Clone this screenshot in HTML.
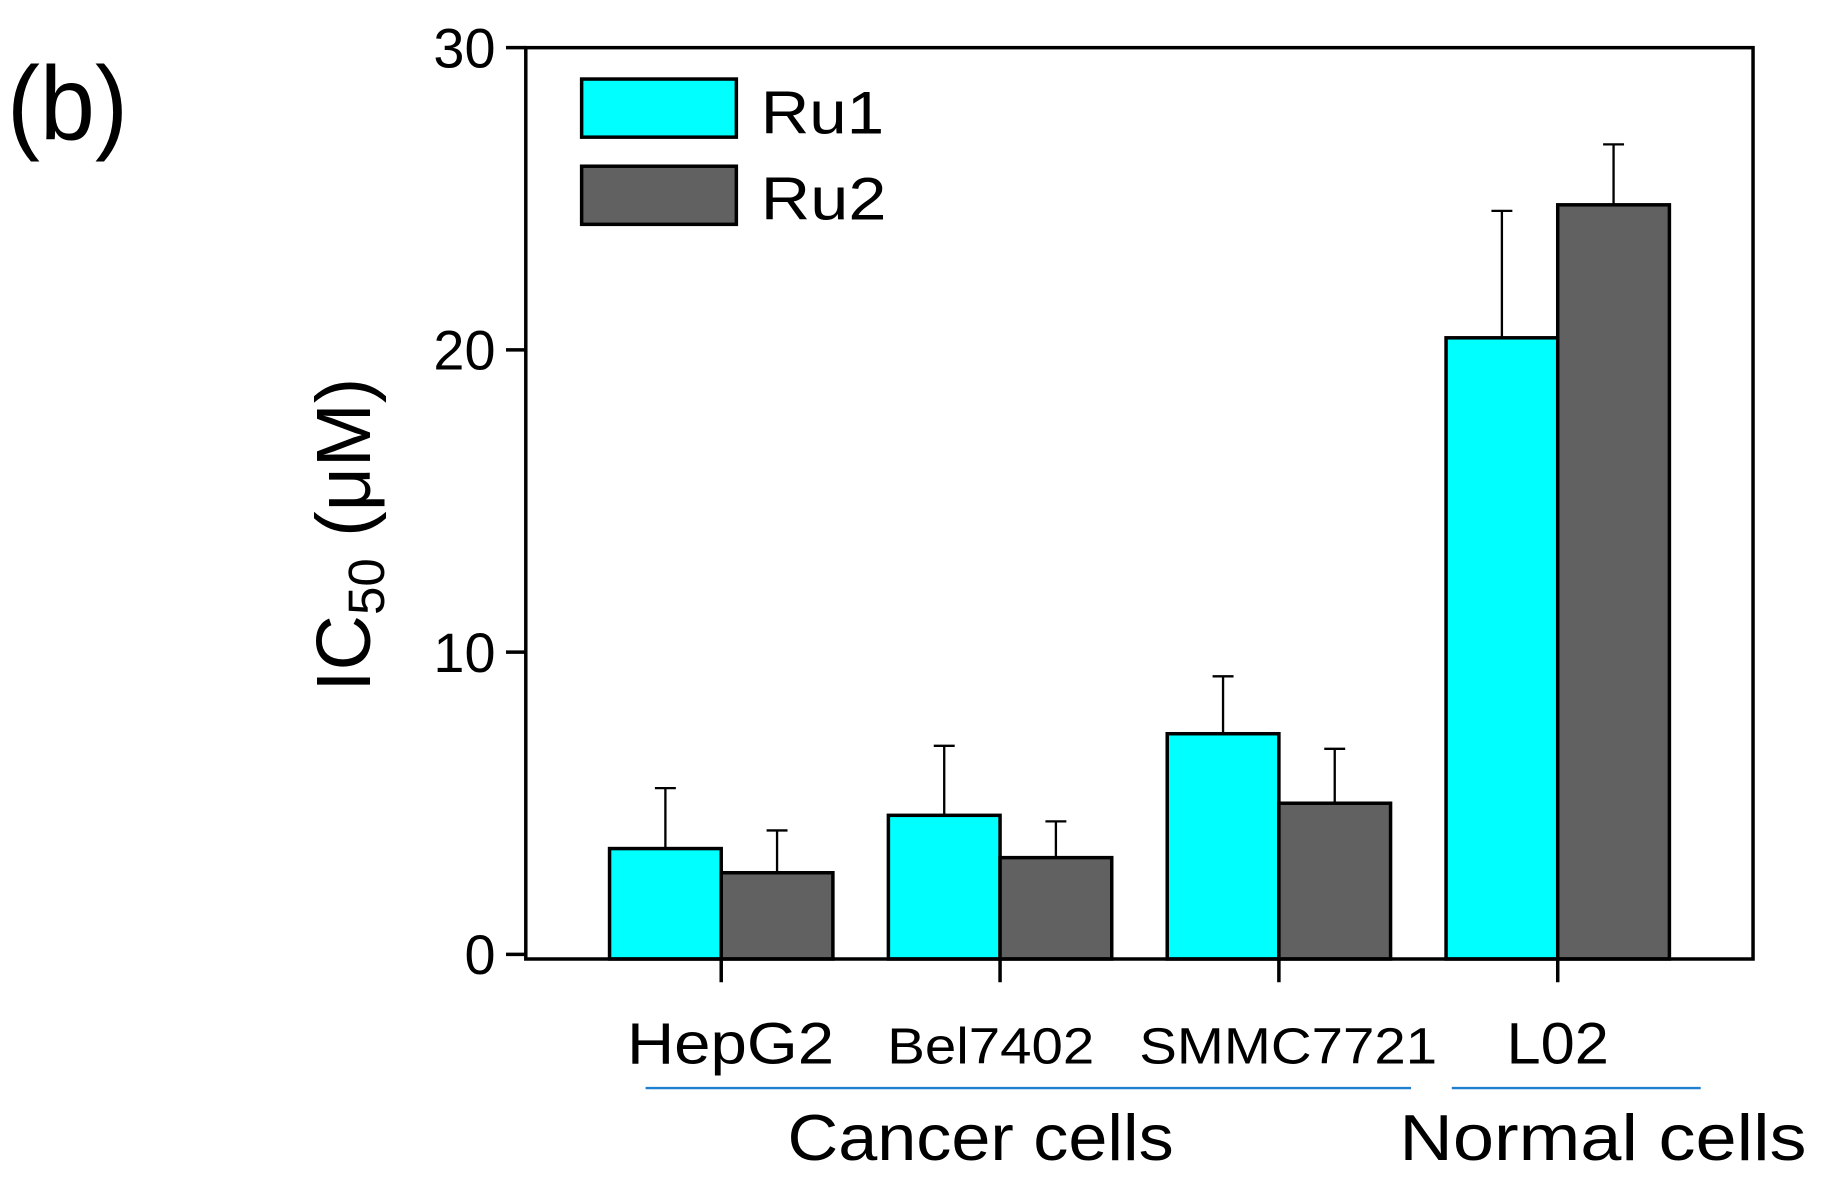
<!DOCTYPE html>
<html><head><meta charset="utf-8"><style>
html,body{margin:0;padding:0;background:#fff}
svg{display:block}
text{font-family:"Liberation Sans",sans-serif;fill:#000}
</style></head><body>
<svg id="chart" width="1824" height="1188" viewBox="0 0 1568 1022" preserveAspectRatio="none" xmlns="http://www.w3.org/2000/svg">
<text x="6" y="120" font-size="90" textLength="104" lengthAdjust="spacingAndGlyphs">(b)</text>
<g id="yaxis"></g>
<g id="bars"></g>
<rect x="452" y="41" width="1055" height="784" fill="none" stroke="#000" stroke-width="3"/>
<g id="xaxis"></g>
<text transform="translate(318,460) rotate(-90)" text-anchor="middle" font-size="66">IC<tspan font-size="44" dy="12">50</tspan><tspan dy="-12"> (μM)</tspan></text>
<g>
<rect x="500" y="68" width="133" height="50" fill="#00ffff" stroke="#000" stroke-width="3"/>
<text x="654" y="115" font-size="52" textLength="106" lengthAdjust="spacingAndGlyphs">Ru1</text>
<rect x="500" y="143" width="133" height="50" fill="#616161" stroke="#000" stroke-width="3"/>
<text x="654" y="189" font-size="52" textLength="108" lengthAdjust="spacingAndGlyphs">Ru2</text>
</g>
<line x1="555" y1="936" x2="1213" y2="936" stroke="#1f7fd0" stroke-width="2"/>
<line x1="1248" y1="936" x2="1462" y2="936" stroke="#1f7fd0" stroke-width="2"/>
<text x="677" y="998" font-size="56" textLength="332" lengthAdjust="spacingAndGlyphs">Cancer cells</text>
<text x="1203" y="998" font-size="56" textLength="350" lengthAdjust="spacingAndGlyphs">Normal cells</text>
</svg>
<script>
const categories = ["HepG2","Bel7402","SMMC7721","L02"];
const ru1 = [3.5, 4.6, 7.3, 20.4];
const ru1Err = [2.0, 2.3, 1.9, 4.2];
const ru2 = [2.7, 3.2, 5.0, 24.8];
const ru2Err = [1.4, 1.2, 1.8, 2.0];
const yTicks = [0, 10, 20, 30];
const labelWidths = [178, 178, 256, 88];
const labelSizes = [50, 44, 44, 50];
const labelOffsets = [8, -8, 8, 0];

const NS = "http://www.w3.org/2000/svg";
const y0 = 821, yTop = 41, yMax = 30;
function yScale(v){ return y0 - (y0 - yTop) * v / yMax; }
function xCenter(i){ return 620 + 239.7 * i; }
const bw = 96;
function mk(tag, attrs, parent){
  const e = document.createElementNS(NS, tag);
  for (const k in attrs) e.setAttribute(k, attrs[k]);
  parent.appendChild(e); return e;
}
const gy = document.getElementById("yaxis");
yTicks.forEach(t => {
  const y = yScale(t);
  const l = mk("line", {x1:435, x2:452, y1:y, y2:y, stroke:"#000", "stroke-width":3}, gy);
  
  
  const tx = mk("text", {x:426, y:y+17, "text-anchor":"end", "font-size":48}, gy);
  tx.textContent = t;
  
  
});
const gb = document.getElementById("bars");
function bar(x, v, err, fill, name){
  const yt = yScale(v), ye = yScale(v + err), xm = x + bw/2;
  const el = mk("line", {x1:xm, x2:xm, y1:yt, y2:ye, stroke:"#000", "stroke-width":2}, gb);
  
  
  const cap = mk("line", {x1:xm-9, x2:xm+9, y1:ye, y2:ye, stroke:"#000", "stroke-width":2}, gb);
  
  
  const r = mk("rect", {x:x, y:yt, width:bw, height:825-yt, fill:fill, stroke:"#000", "stroke-width":3}, gb);
  
  
}
categories.forEach((c, i) => {
  const cx = xCenter(i);
  bar(cx - bw, ru1[i], ru1Err[i], "#00ffff", "bar-ru1-" + c.toLowerCase());
  bar(cx, ru2[i], ru2Err[i], "#616161", "bar-ru2-" + c.toLowerCase());
});
const gx = document.getElementById("xaxis");
categories.forEach((c, i) => {
  const cx = xCenter(i);
  const l = mk("line", {x1:cx, x2:cx, y1:825, y2:845, stroke:"#000", "stroke-width":3}, gx);
  
  
  const t = mk("text", {x:cx + labelOffsets[i], y:915, "text-anchor":"middle", "font-size":labelSizes[i], textLength:labelWidths[i], lengthAdjust:"spacingAndGlyphs"}, gx);
  t.textContent = c;
  
  
});
</script>
</body></html>
